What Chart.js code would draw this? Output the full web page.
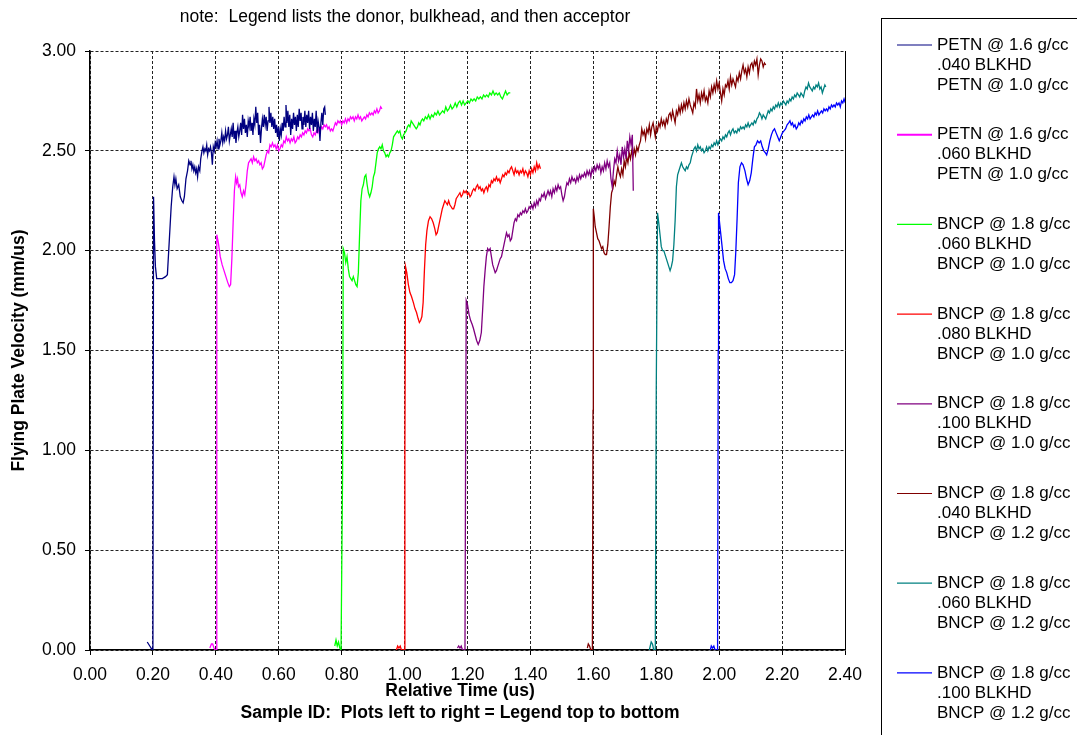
<!DOCTYPE html>
<html>
<head>
<meta charset="utf-8">
<title>Flying Plate Velocity</title>
<script src="https://cdn.jsdelivr.net/npm/chart.js@4.4.0/dist/chart.umd.min.js"></script>
<style>
  html, body { margin: 0; padding: 0; background: #fff; }
  #myChart { display: block; }
</style>
</head>
<body>
<canvas id="myChart" width="1077" height="735"></canvas>
<script>
// legend entries: donor, bulkhead, acceptor
var legendLines = [
    ['PETN @ 1.6 g/cc', '.040 BLKHD', 'PETN @ 1.0 g/cc'],
    ['PETN @ 1.6 g/cc', '.060 BLKHD', 'PETN @ 1.0 g/cc'],
    ['BNCP @ 1.8 g/cc', '.060 BLKHD', 'BNCP @ 1.0 g/cc'],
    ['BNCP @ 1.8 g/cc', '.080 BLKHD', 'BNCP @ 1.0 g/cc'],
    ['BNCP @ 1.8 g/cc', '.100 BLKHD', 'BNCP @ 1.0 g/cc'],
    ['BNCP @ 1.8 g/cc', '.040 BLKHD', 'BNCP @ 1.2 g/cc'],
    ['BNCP @ 1.8 g/cc', '.060 BLKHD', 'BNCP @ 1.2 g/cc'],
    ['BNCP @ 1.8 g/cc', '.100 BLKHD', 'BNCP @ 1.2 g/cc']
];
var seriesColors = ['#000080', '#ff00ff', '#00ff00', '#ff0000', '#800080', '#800000', '#008080', '#0000ff'];

var xTicks = [0, 0.2, 0.4, 0.6, 0.8, 1.0, 1.2, 1.4, 1.6, 1.8, 2.0, 2.2, 2.4];
var yTicks = [0, 0.5, 1.0, 1.5, 2.0, 2.5, 3.0];

// [relative time (us), velocity (mm/us)]
var petn16_040 = [[0.182,0.04],[0.186,0.03],[0.190,0.02],[0.194,0.01],[0.197,0.00],[0.200,0.00],[0.202,2.27],[0.205,2.05],[0.208,1.92],[0.212,1.86],[0.220,1.86],[0.230,1.86],[0.240,1.87],[0.246,1.88],[0.252,2.05],[0.258,2.22],[0.263,2.32],[0.267,2.37],[0.270,2.33],[0.273,2.36],[0.277,2.31],[0.282,2.33],[0.287,2.27],[0.292,2.25],[0.296,2.24],[0.300,2.27],[0.305,2.36],[0.310,2.40],[0.314,2.45],[0.318,2.43],[0.321,2.45],[0.324,2.41],[0.327,2.43],[0.330,2.40],[0.333,2.42],[0.336,2.39],[0.339,2.41],[0.342,2.37],[0.345,2.42],[0.349,2.40],[0.352,2.46],[0.356,2.50],[0.359,2.52],[0.362,2.49],[0.365,2.51],[0.368,2.50],[0.371,2.53],[0.374,2.48],[0.377,2.51],[0.380,2.50],[0.383,2.52],[0.386,2.49],[0.389,2.43],[0.392,2.52],[0.395,2.50],[0.398,2.54],[0.401,2.52],[0.404,2.55],[0.407,2.51],[0.410,2.56],[0.413,2.53],[0.416,2.55],[0.419,2.59],[0.422,2.54],[0.425,2.57],[0.428,2.55],[0.431,2.60],[0.434,2.56],[0.437,2.58],[0.440,2.62],[0.443,2.55],[0.446,2.58],[0.449,2.61],[0.452,2.57],[0.455,2.64],[0.458,2.56],[0.461,2.60],[0.464,2.54],[0.467,2.59],[0.470,2.62],[0.473,2.57],[0.476,2.60],[0.479,2.64],[0.482,2.58],[0.485,2.68],[0.488,2.61],[0.491,2.66],[0.494,2.59],[0.497,2.63],[0.500,2.57],[0.503,2.65],[0.506,2.62],[0.509,2.67],[0.512,2.60],[0.515,2.64],[0.518,2.58],[0.521,2.66],[0.524,2.63],[0.527,2.72],[0.530,2.64],[0.533,2.69],[0.536,2.58],[0.539,2.63],[0.542,2.54],[0.545,2.61],[0.548,2.66],[0.551,2.62],[0.554,2.68],[0.557,2.63],[0.560,2.67],[0.563,2.60],[0.566,2.65],[0.569,2.72],[0.572,2.64],[0.575,2.69],[0.578,2.62],[0.581,2.67],[0.584,2.61],[0.587,2.66],[0.590,2.59],[0.593,2.63],[0.596,2.57],[0.599,2.62],[0.602,2.55],[0.605,2.61],[0.608,2.58],[0.611,2.64],[0.614,2.60],[0.617,2.67],[0.620,2.62],[0.623,2.73],[0.626,2.64],[0.629,2.70],[0.632,2.62],[0.635,2.68],[0.638,2.58],[0.641,2.66],[0.644,2.61],[0.647,2.69],[0.650,2.63],[0.653,2.67],[0.656,2.60],[0.659,2.68],[0.662,2.62],[0.665,2.71],[0.668,2.65],[0.671,2.69],[0.674,2.61],[0.677,2.67],[0.680,2.63],[0.683,2.70],[0.686,2.62],[0.689,2.68],[0.692,2.64],[0.695,2.70],[0.698,2.61],[0.701,2.67],[0.704,2.63],[0.707,2.69],[0.710,2.60],[0.713,2.66],[0.716,2.62],[0.719,2.70],[0.722,2.59],[0.725,2.65],[0.728,2.62],[0.731,2.55],[0.734,2.64],[0.737,2.69],[0.740,2.63],[0.743,2.71],[0.746,2.72],[0.748,2.68]];

var petn16_060 = [[0.381,0.01],[0.386,0.03],[0.390,0.03],[0.394,0.01],[0.398,0.00],[0.401,0.00],[0.403,2.08],[0.408,2.04],[0.414,1.97],[0.420,1.93],[0.426,1.90],[0.432,1.87],[0.438,1.84],[0.443,1.82],[0.447,1.83],[0.451,1.96],[0.455,2.14],[0.459,2.30],[0.463,2.37],[0.466,2.34],[0.469,2.36],[0.472,2.32],[0.476,2.33],[0.480,2.29],[0.484,2.27],[0.488,2.30],[0.492,2.28],[0.496,2.33],[0.500,2.40],[0.504,2.44],[0.508,2.45],[0.512,2.46],[0.516,2.44],[0.520,2.47],[0.524,2.45],[0.528,2.46],[0.532,2.44],[0.536,2.45],[0.540,2.43],[0.544,2.44],[0.548,2.41],[0.552,2.42],[0.556,2.45],[0.560,2.48],[0.564,2.50],[0.568,2.49],[0.572,2.53],[0.576,2.52],[0.580,2.54],[0.584,2.52],[0.588,2.53],[0.592,2.51],[0.596,2.53],[0.600,2.50],[0.604,2.51],[0.608,2.53],[0.612,2.52],[0.616,2.55],[0.620,2.54],[0.624,2.57],[0.628,2.55],[0.632,2.56],[0.636,2.54],[0.640,2.56],[0.644,2.55],[0.648,2.57],[0.652,2.54],[0.656,2.55],[0.660,2.57],[0.664,2.56],[0.668,2.58],[0.672,2.57],[0.676,2.59],[0.680,2.58],[0.684,2.60],[0.688,2.59],[0.692,2.61],[0.696,2.60],[0.700,2.61],[0.704,2.58],[0.708,2.57],[0.712,2.59],[0.716,2.58],[0.720,2.60],[0.724,2.59],[0.728,2.61],[0.732,2.60],[0.736,2.62],[0.740,2.61],[0.744,2.63],[0.748,2.62],[0.752,2.63],[0.756,2.61],[0.760,2.62],[0.764,2.60],[0.768,2.61],[0.772,2.60],[0.776,2.62],[0.780,2.64],[0.784,2.63],[0.788,2.65],[0.792,2.64],[0.796,2.65],[0.800,2.63],[0.804,2.65],[0.808,2.64],[0.812,2.66],[0.816,2.64],[0.820,2.66],[0.824,2.65],[0.828,2.67],[0.832,2.66],[0.836,2.67],[0.840,2.65],[0.844,2.67],[0.848,2.66],[0.852,2.68],[0.856,2.66],[0.860,2.67],[0.864,2.65],[0.868,2.66],[0.872,2.67],[0.876,2.66],[0.880,2.68],[0.884,2.67],[0.888,2.69],[0.892,2.68],[0.896,2.69],[0.900,2.68],[0.904,2.70],[0.908,2.69],[0.912,2.71],[0.916,2.69],[0.920,2.70],[0.924,2.72],[0.928,2.71]];

var bncp10_060 = [[0.778,0.02],[0.782,0.05],[0.786,0.02],[0.790,0.04],[0.794,0.01],[0.798,0.00],[0.801,0.00],[0.803,0.90],[0.805,2.01],[0.809,1.99],[0.813,1.94],[0.817,1.97],[0.821,1.91],[0.825,1.87],[0.829,1.86],[0.833,1.85],[0.837,1.87],[0.841,1.85],[0.845,1.83],[0.849,1.82],[0.853,1.89],[0.857,2.08],[0.861,2.25],[0.865,2.31],[0.869,2.33],[0.873,2.37],[0.877,2.38],[0.881,2.33],[0.885,2.29],[0.889,2.27],[0.893,2.29],[0.897,2.32],[0.901,2.37],[0.905,2.39],[0.909,2.44],[0.913,2.49],[0.917,2.51],[0.921,2.52],[0.925,2.51],[0.929,2.53],[0.933,2.50],[0.937,2.49],[0.941,2.47],[0.945,2.48],[0.949,2.47],[0.953,2.49],[0.957,2.50],[0.961,2.53],[0.965,2.57],[0.969,2.58],[0.973,2.59],[0.977,2.60],[0.981,2.59],[0.985,2.60],[0.989,2.57],[0.993,2.56],[0.997,2.58],[1.001,2.59],[1.005,2.60],[1.009,2.62],[1.013,2.63],[1.017,2.62],[1.021,2.65],[1.025,2.64],[1.029,2.63],[1.033,2.62],[1.037,2.61],[1.041,2.62],[1.045,2.64],[1.049,2.63],[1.053,2.65],[1.057,2.66],[1.061,2.65],[1.066,2.67],[1.071,2.66],[1.076,2.68],[1.081,2.66],[1.086,2.68],[1.091,2.67],[1.096,2.69],[1.101,2.68],[1.106,2.70],[1.111,2.68],[1.116,2.69],[1.121,2.70],[1.126,2.69],[1.131,2.72],[1.136,2.70],[1.141,2.71],[1.146,2.73],[1.151,2.71],[1.156,2.72],[1.161,2.74],[1.166,2.72],[1.171,2.74],[1.176,2.75],[1.181,2.73],[1.186,2.75],[1.191,2.73],[1.196,2.74],[1.201,2.75],[1.206,2.74],[1.211,2.76],[1.216,2.75],[1.221,2.76],[1.226,2.75],[1.231,2.77],[1.236,2.76],[1.241,2.77],[1.246,2.76],[1.251,2.78],[1.256,2.77],[1.261,2.78],[1.266,2.77],[1.271,2.79],[1.276,2.78],[1.281,2.80],[1.286,2.78],[1.291,2.79],[1.296,2.78],[1.301,2.79],[1.306,2.77],[1.311,2.76],[1.316,2.78],[1.321,2.80],[1.326,2.78],[1.331,2.79],[1.336,2.79]];

var bncp10_080 = [[0.974,0.00],[0.978,0.02],[0.982,0.01],[0.986,0.02],[0.990,0.00],[0.999,0.00],[1.001,1.00],[1.003,1.92],[1.007,1.89],[1.012,1.83],[1.017,1.79],[1.022,1.77],[1.028,1.74],[1.033,1.71],[1.038,1.69],[1.043,1.66],[1.047,1.64],[1.051,1.65],[1.055,1.67],[1.059,1.74],[1.063,1.90],[1.067,2.03],[1.071,2.10],[1.076,2.15],[1.081,2.17],[1.086,2.16],[1.091,2.14],[1.096,2.11],[1.100,2.08],[1.104,2.09],[1.108,2.12],[1.112,2.15],[1.116,2.18],[1.120,2.21],[1.124,2.23],[1.128,2.25],[1.132,2.24],[1.136,2.23],[1.140,2.25],[1.144,2.23],[1.148,2.22],[1.152,2.21],[1.156,2.21],[1.160,2.23],[1.164,2.26],[1.168,2.27],[1.172,2.28],[1.176,2.29],[1.180,2.27],[1.184,2.28],[1.188,2.30],[1.192,2.29],[1.196,2.30],[1.200,2.28],[1.204,2.29],[1.208,2.27],[1.212,2.28],[1.216,2.30],[1.220,2.31],[1.224,2.30],[1.228,2.32],[1.232,2.33],[1.236,2.31],[1.240,2.32],[1.244,2.30],[1.248,2.31],[1.252,2.29],[1.256,2.31],[1.260,2.32],[1.264,2.30],[1.268,2.33],[1.272,2.32],[1.276,2.35],[1.280,2.34],[1.284,2.36],[1.288,2.35],[1.292,2.37],[1.296,2.35],[1.300,2.36],[1.304,2.34],[1.308,2.36],[1.312,2.38],[1.316,2.37],[1.320,2.39],[1.324,2.38],[1.328,2.40],[1.332,2.39],[1.336,2.41],[1.340,2.42],[1.344,2.40],[1.348,2.38],[1.352,2.41],[1.356,2.39],[1.360,2.40],[1.364,2.38],[1.368,2.40],[1.372,2.39],[1.376,2.41],[1.380,2.38],[1.384,2.40],[1.388,2.39],[1.392,2.37],[1.396,2.40],[1.400,2.38],[1.404,2.41],[1.408,2.39],[1.412,2.42],[1.416,2.40],[1.420,2.44],[1.424,2.41],[1.428,2.43],[1.432,2.41]];

var bncp10_100 = [[1.168,0.01],[1.172,0.02],[1.176,0.01],[1.180,0.02],[1.184,0.00],[1.192,0.00],[1.194,1.00],[1.196,1.75],[1.200,1.73],[1.205,1.68],[1.210,1.65],[1.215,1.63],[1.219,1.61],[1.224,1.58],[1.229,1.55],[1.234,1.53],[1.239,1.55],[1.244,1.59],[1.248,1.70],[1.252,1.82],[1.256,1.90],[1.260,1.97],[1.264,2.01],[1.268,2.00],[1.272,2.01],[1.276,1.97],[1.280,1.93],[1.284,1.91],[1.288,1.89],[1.292,1.90],[1.296,1.92],[1.300,1.94],[1.304,1.96],[1.308,1.97],[1.312,2.00],[1.316,2.03],[1.320,2.06],[1.324,2.09],[1.328,2.07],[1.332,2.08],[1.336,2.05],[1.340,2.06],[1.344,2.10],[1.348,2.14],[1.352,2.16],[1.356,2.15],[1.360,2.18],[1.364,2.17],[1.368,2.19],[1.372,2.18],[1.376,2.20],[1.380,2.19],[1.384,2.21],[1.388,2.19],[1.392,2.20],[1.396,2.22],[1.400,2.21],[1.404,2.23],[1.408,2.21],[1.412,2.24],[1.416,2.22],[1.420,2.25],[1.424,2.23],[1.428,2.26],[1.432,2.25],[1.436,2.28],[1.440,2.27],[1.444,2.29],[1.448,2.26],[1.452,2.28],[1.456,2.30],[1.460,2.28],[1.464,2.30],[1.468,2.27],[1.472,2.31],[1.476,2.29],[1.480,2.32],[1.484,2.30],[1.488,2.33],[1.492,2.31],[1.496,2.32],[1.500,2.28],[1.504,2.25],[1.508,2.27],[1.512,2.31],[1.516,2.34],[1.520,2.33],[1.524,2.36],[1.528,2.34],[1.532,2.37],[1.536,2.35],[1.540,2.36],[1.544,2.34],[1.548,2.37],[1.552,2.35],[1.556,2.38],[1.560,2.36],[1.564,2.38],[1.568,2.37],[1.572,2.39],[1.576,2.37],[1.580,2.40],[1.584,2.38],[1.588,2.40],[1.592,2.37],[1.596,2.41],[1.600,2.39],[1.604,2.42],[1.608,2.40],[1.612,2.43],[1.616,2.41],[1.620,2.43],[1.624,2.39],[1.628,2.42],[1.632,2.40],[1.636,2.44],[1.640,2.41],[1.644,2.45],[1.648,2.42],[1.652,2.44],[1.656,2.36],[1.660,2.32],[1.664,2.40],[1.668,2.46],[1.672,2.44],[1.676,2.50],[1.680,2.45],[1.684,2.48],[1.688,2.43],[1.692,2.52],[1.696,2.47],[1.700,2.51],[1.704,2.46],[1.708,2.55],[1.712,2.50],[1.716,2.57],[1.720,2.53],[1.724,2.58],[1.727,2.30]];

var bncp12_040 = [[1.581,0.01],[1.584,0.03],[1.588,0.02],[1.592,0.00],[1.597,0.00],[1.599,1.20],[1.600,2.21],[1.603,2.17],[1.606,2.12],[1.610,2.09],[1.614,2.06],[1.618,2.05],[1.622,2.03],[1.626,2.01],[1.630,2.02],[1.634,1.99],[1.638,1.98],[1.642,1.98],[1.646,2.03],[1.650,2.12],[1.654,2.22],[1.658,2.29],[1.662,2.31],[1.666,2.35],[1.670,2.33],[1.674,2.38],[1.678,2.42],[1.682,2.39],[1.686,2.37],[1.690,2.41],[1.694,2.38],[1.698,2.45],[1.702,2.42],[1.706,2.47],[1.710,2.44],[1.714,2.49],[1.718,2.46],[1.722,2.50],[1.726,2.47],[1.730,2.51],[1.734,2.48],[1.738,2.52],[1.742,2.50],[1.746,2.53],[1.750,2.55],[1.754,2.61],[1.758,2.58],[1.762,2.60],[1.766,2.56],[1.770,2.61],[1.774,2.59],[1.778,2.63],[1.782,2.58],[1.786,2.62],[1.790,2.64],[1.794,2.60],[1.797,2.57],[1.800,2.62],[1.804,2.60],[1.808,2.64],[1.812,2.62],[1.816,2.66],[1.820,2.63],[1.824,2.65],[1.828,2.62],[1.832,2.66],[1.836,2.64],[1.840,2.68],[1.844,2.69],[1.848,2.66],[1.852,2.70],[1.856,2.67],[1.860,2.64],[1.864,2.70],[1.868,2.68],[1.872,2.72],[1.876,2.69],[1.880,2.73],[1.884,2.70],[1.888,2.74],[1.892,2.71],[1.896,2.75],[1.900,2.72],[1.904,2.76],[1.908,2.73],[1.912,2.71],[1.916,2.69],[1.920,2.74],[1.924,2.72],[1.928,2.81],[1.932,2.75],[1.936,2.78],[1.940,2.74],[1.944,2.79],[1.948,2.76],[1.952,2.80],[1.956,2.75],[1.960,2.77],[1.964,2.74],[1.968,2.80],[1.972,2.77],[1.976,2.82],[1.980,2.79],[1.984,2.83],[1.988,2.80],[1.992,2.85],[1.996,2.81],[2.000,2.84],[2.004,2.79],[2.008,2.75],[2.012,2.81],[2.016,2.78],[2.020,2.83],[2.024,2.82],[2.028,2.85],[2.032,2.81],[2.036,2.87],[2.040,2.83],[2.044,2.86],[2.048,2.84],[2.052,2.82],[2.056,2.87],[2.060,2.85],[2.064,2.89],[2.068,2.86],[2.072,2.90],[2.076,2.93],[2.080,2.89],[2.084,2.91],[2.088,2.87],[2.092,2.92],[2.096,2.89],[2.100,2.93],[2.104,2.94],[2.108,2.91],[2.112,2.95],[2.116,2.93],[2.120,2.96],[2.124,2.88],[2.128,2.93],[2.132,2.96],[2.136,2.95],[2.140,2.92],[2.144,2.94],[2.148,2.93]];

var bncp12_060 = [[1.778,0.00],[1.781,0.02],[1.784,0.04],[1.788,0.03],[1.792,0.00],[1.797,0.00],[1.800,1.30],[1.804,2.19],[1.808,2.14],[1.812,2.08],[1.816,2.02],[1.820,2.00],[1.824,2.00],[1.828,1.98],[1.832,1.96],[1.836,1.94],[1.840,1.92],[1.844,1.90],[1.848,1.92],[1.852,1.95],[1.856,2.03],[1.860,2.15],[1.864,2.32],[1.868,2.38],[1.872,2.40],[1.876,2.42],[1.880,2.44],[1.884,2.42],[1.888,2.41],[1.892,2.40],[1.896,2.42],[1.900,2.41],[1.904,2.43],[1.908,2.44],[1.912,2.47],[1.916,2.49],[1.920,2.51],[1.924,2.52],[1.928,2.50],[1.932,2.53],[1.936,2.51],[1.940,2.52],[1.944,2.50],[1.948,2.51],[1.952,2.49],[1.956,2.50],[1.960,2.52],[1.964,2.50],[1.968,2.52],[1.972,2.51],[1.976,2.53],[1.980,2.52],[1.984,2.54],[1.988,2.53],[1.992,2.55],[1.996,2.53],[2.000,2.55],[2.004,2.56],[2.008,2.55],[2.012,2.57],[2.016,2.56],[2.020,2.58],[2.024,2.57],[2.028,2.59],[2.032,2.60],[2.036,2.58],[2.040,2.60],[2.044,2.61],[2.048,2.59],[2.052,2.60],[2.056,2.59],[2.060,2.61],[2.064,2.60],[2.068,2.62],[2.072,2.61],[2.076,2.62],[2.080,2.61],[2.084,2.63],[2.088,2.62],[2.092,2.64],[2.096,2.62],[2.100,2.63],[2.104,2.64],[2.108,2.63],[2.112,2.65],[2.116,2.64],[2.120,2.66],[2.124,2.67],[2.128,2.69],[2.132,2.68],[2.136,2.66],[2.140,2.68],[2.144,2.67],[2.148,2.66],[2.152,2.68],[2.156,2.70],[2.160,2.69],[2.164,2.71],[2.168,2.70],[2.172,2.72],[2.176,2.71],[2.180,2.73],[2.184,2.72],[2.188,2.74],[2.192,2.72],[2.196,2.74],[2.200,2.73],[2.204,2.75],[2.208,2.74],[2.212,2.73],[2.216,2.75],[2.220,2.74],[2.224,2.76],[2.228,2.75],[2.232,2.77],[2.236,2.76],[2.240,2.78],[2.244,2.77],[2.248,2.79],[2.252,2.78],[2.256,2.77],[2.260,2.79],[2.264,2.78],[2.268,2.77],[2.272,2.80],[2.276,2.82],[2.280,2.81],[2.284,2.84],[2.288,2.82],[2.292,2.81],[2.296,2.80],[2.300,2.82],[2.304,2.81],[2.308,2.83],[2.312,2.82],[2.316,2.84],[2.320,2.81],[2.324,2.82],[2.328,2.79],[2.332,2.81],[2.336,2.83],[2.339,2.82]];

var bncp12_100 = [[1.972,0.00],[1.975,0.02],[1.979,0.01],[1.983,0.02],[1.987,0.00],[1.995,0.00],[1.997,1.50],[1.998,2.19],[2.002,2.13],[2.006,2.07],[2.010,2.01],[2.014,1.95],[2.019,1.91],[2.024,1.89],[2.029,1.86],[2.034,1.84],[2.039,1.84],[2.044,1.85],[2.049,1.88],[2.053,2.00],[2.057,2.16],[2.061,2.34],[2.066,2.42],[2.071,2.44],[2.076,2.43],[2.082,2.40],[2.087,2.36],[2.092,2.33],[2.097,2.35],[2.102,2.39],[2.107,2.46],[2.112,2.52],[2.117,2.53],[2.122,2.55],[2.127,2.54],[2.132,2.55],[2.137,2.52],[2.142,2.50],[2.147,2.49],[2.151,2.48],[2.156,2.51],[2.161,2.55],[2.166,2.58],[2.171,2.60],[2.176,2.61],[2.181,2.59],[2.186,2.57],[2.191,2.55],[2.196,2.57],[2.201,2.59],[2.206,2.60],[2.211,2.61],[2.216,2.63],[2.221,2.64],[2.225,2.65],[2.229,2.63],[2.233,2.64],[2.237,2.62],[2.241,2.63],[2.245,2.61],[2.249,2.62],[2.253,2.64],[2.257,2.63],[2.261,2.65],[2.265,2.64],[2.269,2.66],[2.273,2.65],[2.277,2.67],[2.281,2.66],[2.285,2.68],[2.289,2.66],[2.293,2.67],[2.297,2.68],[2.301,2.67],[2.305,2.69],[2.309,2.68],[2.313,2.70],[2.317,2.68],[2.321,2.69],[2.325,2.70],[2.329,2.69],[2.333,2.71],[2.337,2.70],[2.341,2.71],[2.345,2.70],[2.349,2.72],[2.353,2.71],[2.357,2.73],[2.361,2.72],[2.365,2.73],[2.369,2.72],[2.373,2.74],[2.377,2.73],[2.381,2.74],[2.385,2.72],[2.389,2.75],[2.393,2.74],[2.397,2.76],[2.401,2.74],[2.405,2.75],[2.409,2.73]];

var allSeries = [petn16_040, petn16_060, bncp10_060, bncp10_080, bncp10_100, bncp12_040, bncp12_060, bncp12_100];

var FONT = "'Liberation Sans', Arial, sans-serif";

var datasets = allSeries.map(function(s, i) {
    return {
        label: legendLines[i].join(' / '),
        data: s.map(function(p) { return { x: p[0], y: p[1] }; }),
        borderColor: seriesColors[i],
        backgroundColor: seriesColors[i],
        borderWidth: 1.3,
        pointRadius: 0,
        tension: 0,
        fill: false
    };
});

// legend box, plot frame and the free text lines
var extrasPlugin = {
    id: 'extras',
    afterDatasetsDraw: function(chart) {
        var ctx = chart.ctx, a = chart.chartArea;
        ctx.save();
        ctx.strokeStyle = '#000';
        ctx.lineWidth = 1;
        ctx.beginPath();
        ctx.moveTo(Math.round(a.right) + 0.5, a.top);
        ctx.lineTo(Math.round(a.right) + 0.5, a.bottom);
        ctx.stroke();
        ctx.restore();
    },
    afterDraw: function(chart) {
        var ctx = chart.ctx;
        ctx.save();
        ctx.fillStyle = '#000';
        ctx.textBaseline = 'middle';

        ctx.font = '17.5px ' + FONT;
        ctx.textAlign = 'center';
        ctx.fillText('note:  Legend lists the donor, bulkhead, and then acceptor', 405, 17);

        ctx.font = 'bold 17.5px ' + FONT;
        ctx.fillText('Relative Time (us)', 460, 691);
        ctx.fillText('Sample ID:  Plots left to right = Legend top to bottom', 460, 713);

        // legend
        ctx.strokeStyle = '#000';
        ctx.lineWidth = 1;
        ctx.strokeRect(881.5, 18.5, 400, 800);
        ctx.font = '17px ' + FONT;
        ctx.textAlign = 'left';
        for (var i = 0; i < legendLines.length; i++) {
            var cy = 45 + i * 89.7;
            ctx.strokeStyle = seriesColors[i];
            ctx.lineWidth = i === 1 ? 2 : 1.2;
            ctx.beginPath();
            ctx.moveTo(897, cy);
            ctx.lineTo(932, cy);
            ctx.stroke();
            for (var j = 0; j < 3; j++) {
                ctx.fillText(legendLines[i][j], 937, cy + j * 20);
            }
        }
        ctx.restore();
    }
};

var ctx = document.getElementById('myChart').getContext('2d');
var myChart = new Chart(ctx, {
    type: 'line',
    data: { datasets: datasets },
    options: {
        responsive: false,
        animation: false,
        devicePixelRatio: 1,
        layout: { padding: { top: 51, right: 232, left: 0, bottom: 0 } },
        plugins: {
            legend: { display: false },
            tooltip: { enabled: false },
            title: { display: false }
        },
        scales: {
            x: {
                type: 'linear',
                min: 0,
                max: 2.4,
                afterFit: function(scale) { scale.height = 85; },
                afterBuildTicks: function(scale) {
                    scale.ticks = xTicks.map(function(v) { return { value: v }; });
                },
                ticks: {
                    autoSkip: false,
                    maxRotation: 0,
                    padding: 10,
                    color: '#000',
                    font: { family: FONT, size: 17.5 },
                    callback: function(v) { return Number(v).toFixed(2); }
                },
                grid: { color: '#222', lineWidth: 1, tickLength: 5, tickColor: '#000' },
                border: { display: true, color: '#000', width: 1.5, dash: [3, 2] }
            },
            y: {
                type: 'linear',
                min: 0,
                max: 3,
                afterFit: function(scale) { scale.width = 90; },
                afterBuildTicks: function(scale) {
                    scale.ticks = yTicks.map(function(v) { return { value: v }; });
                },
                ticks: {
                    padding: 9,
                    color: '#000',
                    font: { family: FONT, size: 17.5 },
                    callback: function(v) { return Number(v).toFixed(2); }
                },
                grid: { color: '#222', lineWidth: 1, tickLength: 5, tickColor: '#000' },
                border: { display: true, color: '#000', width: 1.5, dash: [3, 2] },
                title: {
                    display: true,
                    text: 'Flying Plate Velocity (mm/us)',
                    color: '#000',
                    padding: { top: 9, bottom: 0 },
                    font: { family: FONT, size: 17.5, weight: 'bold' }
                }
            }
        }
    },
    plugins: [extrasPlugin]
});
</script>
</body>
</html>
